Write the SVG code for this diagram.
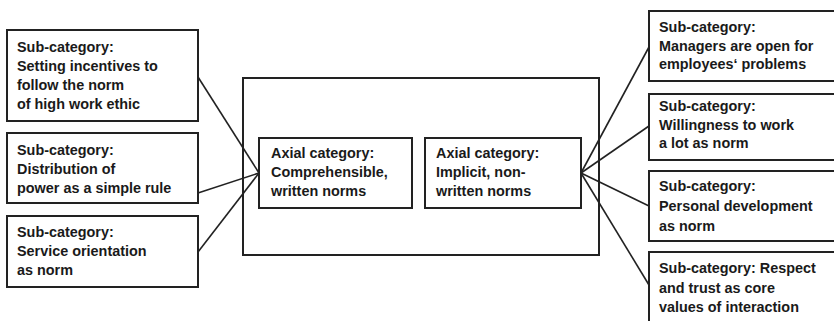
<svg xmlns="http://www.w3.org/2000/svg" width="834" height="321" viewBox="0 0 834 321">
  <style>
    .box { fill: #ffffff; stroke: #222222; stroke-width: 2; }
    .frame { fill: none; stroke: #222222; stroke-width: 2; }
    .link { stroke: #222222; stroke-width: 1.6; fill: none; }
    text { font-family: "Liberation Sans", Arial, sans-serif; font-weight: bold; font-size: 14.4px; fill: #1a1a1a; }
  </style>
  <rect width="834" height="321" fill="#ffffff"/>

  <!-- outer frame around the two axial categories -->
  <g id="frame">
    <rect class="frame" x="243" y="78" width="356" height="177"/>
  </g>

  <g id="connectors">
    <line class="link" x1="198" y1="77" x2="259" y2="173"/>
    <line class="link" x1="198" y1="193" x2="259" y2="173"/>
    <line class="link" x1="198" y1="252" x2="259" y2="173"/>
    <line class="link" x1="581" y1="173" x2="649" y2="47"/>
    <line class="link" x1="581" y1="173" x2="649" y2="126"/>
    <line class="link" x1="581" y1="173" x2="649" y2="206"/>
    <line class="link" x1="581" y1="173" x2="649" y2="285"/>
  </g>

  <!-- left sub-categories -->
  <g id="sub-incentives">
    <rect class="box" x="7" y="30" width="191" height="91"/>
    <text x="17" y="52">Sub-category:</text>
    <text x="17" y="71">Setting incentives to</text>
    <text x="17" y="90">follow the norm</text>
    <text x="17" y="109">of high work ethic</text>
  </g>
  <g id="sub-power">
    <rect class="box" x="7" y="133" width="191" height="70"/>
    <text x="17" y="155">Sub-category:</text>
    <text x="17" y="174">Distribution of</text>
    <text x="17" y="193">power as a simple rule</text>
  </g>
  <g id="sub-service">
    <rect class="box" x="7" y="216" width="191" height="71"/>
    <text x="17" y="237">Sub-category:</text>
    <text x="17" y="256">Service orientation</text>
    <text x="17" y="275">as norm</text>
  </g>

  <!-- axial categories -->
  <g id="axial-written">
    <rect class="box" x="259" y="138" width="153" height="70"/>
    <text x="271" y="158">Axial category:</text>
    <text x="271" y="177">Comprehensible,</text>
    <text x="271" y="196">written norms</text>
  </g>
  <g id="axial-implicit">
    <rect class="box" x="425" y="138" width="156" height="70"/>
    <text x="436" y="158">Axial category:</text>
    <text x="436" y="177">Implicit, non-</text>
    <text x="436" y="196">written norms</text>
  </g>

  <!-- right sub-categories -->
  <g id="sub-managers">
    <rect class="box" x="649" y="11" width="200" height="70"/>
    <text x="659" y="32">Sub-category:</text>
    <text x="659" y="51">Managers are open for</text>
    <text x="659" y="69">employees‘ problems</text>
  </g>
  <g id="sub-willingness">
    <rect class="box" x="649" y="94" width="200" height="66"/>
    <text x="659" y="111">Sub-category:</text>
    <text x="659" y="130">Willingness to work</text>
    <text x="659" y="148">a lot as norm</text>
  </g>
  <g id="sub-development">
    <rect class="box" x="649" y="171" width="200" height="70"/>
    <text x="659" y="191">Sub-category:</text>
    <text x="659" y="211">Personal development</text>
    <text x="659" y="231">as norm</text>
  </g>
  <g id="sub-respect">
    <rect class="box" x="649" y="252" width="200" height="80"/>
    <text x="659" y="273">Sub-category: Respect</text>
    <text x="659" y="293">and trust as core</text>
    <text x="659" y="312">values of interaction</text>
  </g>
</svg>
